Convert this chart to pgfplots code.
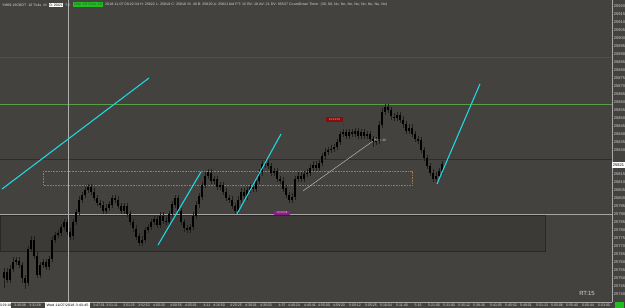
\documentclass[border=0pt]{standalone}
\usepackage{fontspec}
\setmainfont{Liberation Sans}
\usepackage{graphicx}
\usepackage{pgfplots}
\pgfplotsset{compat=1.18}
\usepackage{pgfplotstable}
\definecolor{bg}{RGB}{68,66,63}
\definecolor{boxfill}{RGB}{60,58,55}
\definecolor{boxline}{RGB}{40,40,40}
\definecolor{axisgray}{RGB}{170,170,170}
\definecolor{labelgray}{RGB}{215,215,215}
\definecolor{cyanline}{RGB}{30,215,225}
\definecolor{blueline}{RGB}{46,86,140}
\definecolor{greenline}{RGB}{86,160,64}
\definecolor{darkline}{RGB}{45,45,45}
\definecolor{lightline}{RGB}{165,165,165}
\definecolor{dotorange}{RGB}{170,118,60}
\definecolor{wick}{RGB}{30,30,30}
\definecolor{chopgreen}{RGB}{32,190,32}
\definecolor{redlab}{RGB}{140,12,12}
\definecolor{purplab}{RGB}{140,30,140}
\newcommand\tfont{\fontsize{3.5}{4}\selectfont}

\pgfplotstableread{
x o h l c
4 25750 25756 25744 25754
7 25754 25756 25747 25749
10 25749 25758 25747 25756
13 25756 25763 25754 25760
16 25760 25763 25758 25761
19 25761 25763 25756 25758
22 25758 25760 25747 25750
25 25750 25752 25743 25747
28 25747 25770 25745 25768
31 25768 25776 25766 25774
34 25774 25776 25762 25764
37 25764 25766 25750 25752
40 25752 25760 25750 25758
43 25758 25762 25756 25760
46 25760 25762 25755 25757
49 25757 25764 25755 25762
52 25762 25776 25760 25774
55 25774 25779 25772 25777
58 25777 25780 25775 25778
61 25778 25784 25776 25782
64 25782 25787 25780 25785
67 25785 25787 25777 25779
70 25779 25781 25774 25776
73 25776 25787 25774 25785
76 25785 25793 25783 25791
79 25791 25801 25789 25799
82 25799 25804 25797 25802
85 25802 25807 25800 25805
88 25805 25809 25803 25807
91 25807 25809 25802 25804
94 25804 25806 25798 25800
97 25800 25802 25795 25797
100 25797 25799 25794 25796
103 25796 25798 25790 25792
106 25792 25796 25790 25794
109 25794 25798 25792 25796
112 25796 25802 25794 25800
115 25800 25802 25797 25799
118 25799 25801 25793 25795
121 25795 25797 25790 25792
124 25792 25797 25790 25795
127 25795 25797 25788 25790
130 25790 25792 25783 25785
133 25785 25787 25779 25781
136 25781 25783 25774 25776
139 25776 25778 25770 25772
142 25772 25776 25770 25774
145 25774 25782 25772 25780
148 25780 25784 25778 25782
151 25782 25787 25780 25785
154 25785 25789 25783 25787
157 25787 25789 25781 25783
160 25783 25791 25781 25789
163 25789 25791 25784 25786
166 25786 25788 25783 25785
169 25785 25792 25783 25790
172 25790 25798 25788 25796
175 25796 25802 25794 25800
178 25800 25802 25790 25792
181 25792 25794 25783 25785
184 25785 25787 25779 25781
187 25781 25783 25778 25780
190 25780 25784 25778 25782
193 25782 25791 25780 25789
196 25789 25798 25787 25796
199 25796 25803 25794 25801
202 25801 25810 25799 25808
205 25808 25816 25806 25814
208 25814 25818 25812 25816
211 25816 25818 25809 25811
214 25811 25814 25809 25812
217 25812 25814 25805 25807
220 25807 25810 25805 25808
223 25808 25810 25802 25804
226 25804 25806 25798 25800
229 25800 25802 25797 25799
232 25799 25801 25793 25795
235 25795 25797 25790 25792
238 25792 25801 25790 25799
241 25799 25806 25797 25804
244 25804 25806 25799 25801
247 25801 25807 25799 25805
250 25805 25809 25803 25807
253 25807 25809 25804 25806
256 25806 25813 25804 25811
259 25811 25818 25809 25816
262 25816 25823 25814 25821
265 25821 25824 25819 25822
268 25822 25824 25818 25820
271 25820 25822 25814 25816
274 25816 25819 25814 25817
277 25817 25819 25810 25812
280 25812 25814 25809 25811
283 25811 25813 25804 25806
286 25806 25808 25800 25802
289 25802 25804 25797 25799
292 25799 25803 25797 25801
295 25801 25814 25799 25812
298 25812 25816 25810 25814
301 25814 25816 25810 25812
304 25812 25817 25810 25815
307 25815 25818 25813 25816
310 25816 25821 25814 25819
313 25819 25823 25817 25821
316 25821 25823 25817 25819
319 25819 25824 25817 25822
322 25822 25828 25820 25826
325 25826 25831 25824 25829
328 25829 25832 25827 25830
331 25830 25833 25828 25831
334 25831 25834 25829 25832
337 25832 25837 25830 25835
340 25835 25842 25833 25840
343 25840 25843 25838 25841
346 25841 25843 25837 25839
349 25839 25843 25837 25841
352 25841 25843 25838 25840
355 25840 25844 25838 25842
358 25842 25844 25837 25839
361 25839 25843 25837 25841
364 25841 25843 25837 25839
367 25839 25842 25837 25840
370 25840 25842 25835 25837
373 25837 25839 25832 25835
376 25835 25838 25833 25836
379 25836 25848 25834 25846
382 25846 25856 25844 25854
385 25854 25859 25852 25857
388 25857 25859 25853 25855
391 25855 25857 25849 25851
394 25851 25853 25848 25850
397 25850 25854 25848 25852
400 25852 25854 25847 25849
403 25849 25851 25844 25846
406 25846 25848 25840 25842
409 25842 25846 25840 25844
412 25844 25846 25838 25840
415 25840 25842 25835 25837
418 25837 25839 25834 25836
421 25836 25838 25828 25830
424 25830 25832 25823 25825
427 25825 25827 25818 25820
430 25820 25822 25814 25816
433 25816 25818 25810 25812
436 25812 25816 25810 25814
439 25814 25819 25812 25817
442 25817 25823 25815 25821
}\bars

\begin{document}
\begin{tikzpicture}
\fill[bg] (0,0) rectangle (625bp,308bp);
\begin{axis}[
  at={(0bp,6bp)}, anchor=south west,
  scale only axis, width=612bp, height=302bp,
  xmin=0, xmax=612, ymin=25735, ymax=25923.75,
  axis background/.style={fill=bg},
  axis x line*=bottom, axis y line*=right,
  axis line style={draw=axisgray, line width=0.6pt},
  tick align=outside, major tick length=1.2bp,
  tick style={draw=axisgray, line width=0.4pt},
  scaled y ticks=false, scaled x ticks=false,
  ytick={25740,25745,25750,25755,25760,25765,25770,25775,25780,25785,25790,25795,25800,25805,25810,25815,25830,25835,25840,25845,25850,25855,25860,25865,25870,25875,25880,25885,25890,25895,25900,25905,25910,25915,25920},
  /pgf/number format/assume math mode=true,
  yticklabel style={font=\fontsize{4}{4}\selectfont, text=labelgray, inner sep=0.5pt, /pgf/number format/1000 sep={}, /pgf/number format/fixed, /pgf/number format/precision=0},
  xtick={20,35,99,112,129,144,159,176,191,207,219,236,251,266,282,294,310,324,339,355,371,386,402,418,434,449,464,479,496,511,526,542,557,572,588,604},
  xticklabels={3:30:08,3:31:58,3:47:01,3:51:11,3:51:25,3:52:52,4:00:30,4:00:56,4:05:01,4:11,4:16:50,4:25:25,4:30:01,4:35:03,4:37,4:40:24,4:45:41,4:55:00,4:59:20,5:00:12,5:05:25,5:10:04,5:11:40,5:16,5:21:00,5:31:00,5:35:12,5:38:16,5:41:05,5:45:52,5:49:01,5:51:13,5:55:06,5:55:40,6:00:44,6:03:00},
  xticklabel style={font=\fontsize{3.6}{4}\selectfont, text=labelgray, inner sep=0.3pt},
]
% lower rectangle zone
\addplot[draw=boxline, fill=boxfill, line width=0.7pt] coordinates {(0,25789.4) (545,25789.4) (545,25766.9) (0,25766.9)} -- cycle;
% dotted zone
\addplot[draw=dotorange, line width=0.5pt, dash pattern=on 0.8pt off 0.8pt] coordinates {(43,25816.9) (412,25816.9) (412,25808.1) (43,25808.1)} -- cycle;
% horizontal lines
\addplot[blueline, line width=0.9pt] coordinates {(0,25888) (612,25888)};
\addplot[greenline, line width=0.9pt] coordinates {(0,25858.5) (612,25858.5)};
\addplot[darkline, line width=1.4pt] coordinates {(0,25824) (612,25824)};
\addplot[lightline, line width=0.7pt] coordinates {(0,25790) (612,25790)};
% crosshair
\addplot[lightline!90!white, line width=0.7pt] coordinates {(68,25735) (68,25923.75)};
% bars: wicks
\addplot[draw=none, mark=none, error bars/.cd, y dir=both, y explicit, error mark=none,
  error bar style={draw=wick, line width=0.5bp}]
  table[x=x, y=c, y error plus expr={\thisrow{h}-\thisrow{c}}, y error minus expr={\thisrow{c}-\thisrow{l}}] {\bars};
% bars: bodies
\addplot[draw=none, mark=none, error bars/.cd, y dir=both, y explicit, error mark=none,
  error bar style={draw=black, line width=1.3bp}]
  table[x=x, y expr={(\thisrow{o}+\thisrow{c})/2}, y error expr={abs(\thisrow{c}-\thisrow{o})/2}] {\bars};
% trend lines
\addplot[cyanline, line width=1.1pt] coordinates {(2,25805.6) (149,25875)};
\addplot[cyanline, line width=1.1pt] coordinates {(158,25770.6) (201,25816.3)};
\addplot[cyanline, line width=1.1pt] coordinates {(237,25790) (281,25840)};
\addplot[cyanline, line width=1.1pt] coordinates {(437,25808.8) (480,25871.3)};
% measure line
\addplot[lightline!80!white, line width=0.5pt] coordinates {(303,25804.4) (373,25835.6)};
\addplot[red!80!black, line width=0.6pt] coordinates {(343,25847.5) (343,25844.5)};
% labels
\node[fill=redlab, text=red!30!white, inner sep=0, minimum width=17bp, minimum height=5bp, font=\fontsize{2.8}{3}\selectfont] at (axis cs:334.5,25849.1) {10:23:03};
\node[fill=purplab, text=purple!20!white, inner sep=0, minimum width=16bp, minimum height=4.5bp, font=\fontsize{2.8}{3}\selectfont] at (axis cs:282,25790.6) {10:00:58};
\node[anchor=west, text=labelgray, inner sep=0, font=\fontsize{3.2}{3.5}\selectfont] at (axis cs:374,25836.3) {PD = 30};
\end{axis}
% header
\node[anchor=west, text=labelgray, inner sep=0, font=\tfont] at (2bp,303bp) {\resizebox{45bp}{\height}{YM09-18CBOT\ \ 10 Ticks\ \ \#1}};
\node[anchor=west, fill=white, text=black, inner sep=0.4bp, font=\tfont] at (49bp,303bp) {\resizebox{13bp}{\height}{O: 25821}};
\node[anchor=west, text=labelgray, inner sep=0, font=\tfont] at (65bp,303bp) {T:0};
\node[anchor=west, fill=chopgreen, text=black!75, inner sep=0, minimum width=30bp, minimum height=5bp, font=\tfont] at (73bp,303bp) {\resizebox{28bp}{\height}{Chop: 233 | Chop: 133}};
\node[anchor=west, text=labelgray, inner sep=0, font=\tfont] at (105bp,303bp) {\resizebox{282bp}{\height}{2018-11-07 09:22:34 H: 25822 L: 25818 C: 25818 SI: 40 B: 25820 A: 25821 bid P.T: 15 BV: 18 AV: 21 DV: 95537 CountDown Timer\ \ (30, 90, No, No, No, No, No, No, No, No)}};
% bottom and right axis highlights
\node[fill=white, text=black, inner sep=0, minimum width=10bp, minimum height=5bp, font=\fontsize{3.4}{4}\selectfont] at (5.5bp,3bp) {3:29:18};
\node[fill=white, text=black, inner sep=0, minimum width=45bp, minimum height=5.5bp, font=\fontsize{3.4}{4}\selectfont] at (67.5bp,3bp) {\resizebox{42bp}{\height}{Wed 11/07/2018 3:43:45}};
\node[fill=chopgreen, inner sep=0, minimum width=9bp, minimum height=5bp] at (619bp,3bp) {};
\node[fill=white, text=black, inner sep=0, minimum width=13bp, minimum height=6bp, font=\fontsize{4}{4}\selectfont] at (618.5bp,143bp) {25821};
\node[text=labelgray, inner sep=0, font=\fontsize{6}{6}\selectfont] at (587bp,15bp) {RT:15};
\pgfresetboundingbox
\path[use as bounding box] (0,0) rectangle (625bp,308bp);
\end{tikzpicture}
\end{document}
